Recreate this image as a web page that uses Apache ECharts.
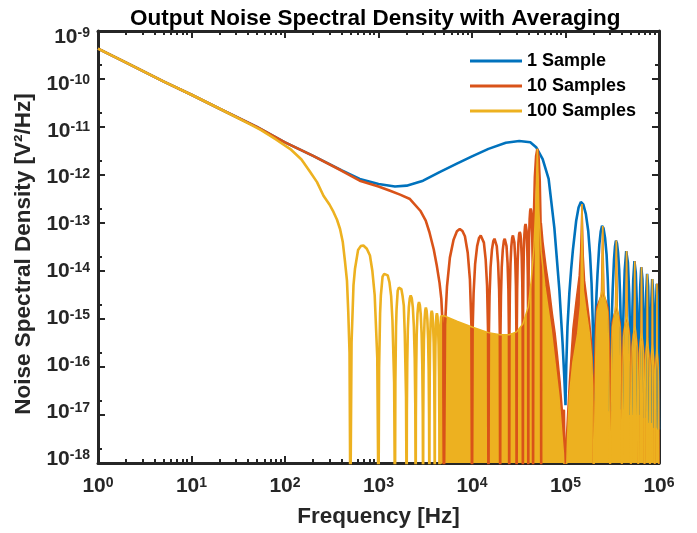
<!DOCTYPE html>
<html><head><meta charset="utf-8">
<script src="https://cdn.jsdelivr.net/npm/echarts@6/dist/echarts.min.js"></script>
<style>html,body{margin:0;padding:0;background:#fff}#c{width:697px;height:533px}</style>
</head><body><div id="c"></div>
<script>
// ---- data: [frequency Hz, PSD V^2/Hz] ----
const oneSample = [
 [1,4.3e-10],[2,2.2e-10],[5,8.9e-11],[10,4.7e-11],[20,2.4e-11],[50,1.0e-11],[100,4.8e-12],[200,2.5e-12],[400,1.26e-12],
 [630,8.3e-13],[1000,6.5e-13],[1500,5.75e-13],[2000,6.0e-13],[3000,7.6e-13],[4500,1.15e-12],[6800,1.7e-12],[1e4,2.45e-12],
 [1.5e4,3.5e-12],[2.3e4,4.7e-12],[3.2e4,5.1e-12],[4.2e4,4.8e-12],[4.85e4,3.8e-12],[5.7e4,2.15e-12],[6.6e4,8.3e-13],
 [7.6e4,7.9e-14],[8.6e4,4.0e-15],[9.3e4,3.2e-16],[9.7e4,6.3e-17],[1e5,1.6e-17],
 [1.02e5,1.1e-16],[1.05e5,6.9e-16],[1.1e5,3.5e-15],[1.15e5,1.1e-14],[1.2e5,2.75e-14],[1.3e5,1.1e-13],[1.38e5,2.1e-13],[1.46e5,2.75e-13],
 [1.55e5,2.45e-13],[1.65e5,1.55e-13],[1.75e5,6.9e-14],[1.83e5,2.2e-14],[1.9e5,5.5e-15],[1.95e5,1.1e-15],[1.98e5,2.75e-16],[2e5,2e-17],
 [2.02e5,3.5e-17],[2.05e5,2.2e-16],[2.1e5,1.1e-15],[2.15e5,3.5e-15],[2.2e5,8.7e-15],[2.3e5,3.5e-14],[2.38e5,6.6e-14],[2.46e5,8.7e-14],
 [2.55e5,7.8e-14],[2.65e5,4.9e-14],[2.75e5,2.2e-14],[2.83e5,6.9e-15],[2.9e5,1.74e-15],[2.95e5,3.5e-16],[2.98e5,8.7e-17],[3e5,1.2e-17],
 [3.02e5,1.7e-17],[3.05e5,1.07e-16],[3.1e5,5.4e-16],[3.15e5,1.7e-15],[3.2e5,4.3e-15],[3.3e5,1.7e-14],[3.38e5,3.2e-14],[3.46e5,4.3e-14],
 [3.55e5,3.8e-14],[3.65e5,2.4e-14],[3.75e5,1.07e-14],[3.83e5,3.4e-15],[3.9e5,8.5e-16],[3.95e5,1.7e-16],[3.98e5,4.3e-17],[4e5,1.3e-17],
 [4.03e5,2.6e-17],[4.1e5,3.3e-16],[4.2e5,2.6e-15],[4.3e5,1.05e-14],[4.46e5,2.6e-14],[4.65e5,1.5e-14],[4.8e5,3.3e-15],[4.9e5,5.2e-16],[4.97e5,4.2e-17],[5e5,1e-17],
 [5.03e5,1.6e-17],[5.1e5,2.0e-16],[5.2e5,1.6e-15],[5.3e5,6.5e-15],[5.46e5,1.6e-14],[5.65e5,9.1e-15],[5.8e5,2.0e-15],[5.9e5,3.2e-16],[5.97e5,2.6e-17],[6e5,1e-17],
 [6.03e5,1.2e-17],[6.1e5,1.5e-16],[6.2e5,1.2e-15],[6.3e5,4.8e-15],[6.46e5,1.2e-14],[6.65e5,6.8e-15],[6.8e5,1.5e-15],[6.9e5,2.4e-16],[6.97e5,1.9e-17],[7e5,1e-17],
 [7.03e5,8.7e-18],[7.1e5,1.1e-16],[7.2e5,8.7e-16],[7.3e5,3.5e-15],[7.46e5,8.7e-15],[7.65e5,4.9e-15],[7.8e5,1.1e-15],[7.9e5,1.74e-16],[7.97e5,1.4e-17],[8e5,8e-18],
 [8.03e5,6.8e-18],[8.1e5,8.5e-17],[8.2e5,6.8e-16],[8.3e5,2.7e-15],[8.46e5,6.8e-15],[8.65e5,3.8e-15],[8.8e5,8.5e-16],[8.9e5,1.35e-16],[8.97e5,1.07e-17],[9e5,6e-18],
 [9.03e5,5.4e-18],[9.1e5,6.8e-17],[9.2e5,5.4e-16],[9.3e5,2.1e-15],[9.46e5,5.4e-15],[9.65e5,3.0e-15],[9.8e5,6.8e-16],[9.9e5,1.07e-16],[9.97e5,8.5e-18],[1e6,5e-18]
];
const tenSamples = [
 [1,4.3e-10],[2,2.2e-10],[5,8.9e-11],[10,4.7e-11],[20,2.4e-11],[50,1.0e-11],[100,4.8e-12],[200,2.5e-12],[400,1.24e-12],
 [630,7.6e-13],[1000,5.75e-13],[1330,4.7e-13],[1700,3.9e-13],[2170,3.16e-13],[2800,1.8e-13],[3200,1.12e-13],[3500,6.5e-14],
 [3900,2.8e-14],[4200,1.3e-14],[4500,5.6e-15],[4700,2.6e-15],[4900,5e-16],[5000,1e-19],
 [5150,7.5e-16],[5400,4.7e-15],[5800,1.9e-14],[6350,4.5e-14],[6900,6.7e-14],[7400,7.5e-14],[7900,6.8e-14],[8400,5.3e-14],[9000,2.4e-14],[9500,6.7e-15],[9850,7.5e-16],[1e4,1e-19],
 [1.015e4,5.5e-16],[1.04e4,3.5e-15],[1.08e4,1.4e-14],[1.135e4,3.3e-14],[1.19e4,4.9e-14],[1.24e4,5.5e-14],[1.29e4,5.0e-14],[1.34e4,3.9e-14],[1.4e4,1.74e-14],[1.45e4,4.9e-15],[1.485e4,5.5e-16],[1.5e4,1e-19],
 [1.515e4,4.7e-16],[1.54e4,3.0e-15],[1.58e4,1.2e-14],[1.635e4,2.8e-14],[1.69e4,4.2e-14],[1.74e4,4.7e-14],[1.79e4,4.3e-14],[1.84e4,3.3e-14],[1.9e4,1.5e-14],[1.95e4,4.2e-15],[1.985e4,4.7e-16],[2e4,1e-19],
 [2.015e4,4.7e-16],[2.04e4,3.0e-15],[2.08e4,1.2e-14],[2.135e4,2.8e-14],[2.19e4,4.2e-14],[2.24e4,4.7e-14],[2.29e4,4.3e-14],[2.34e4,3.3e-14],[2.4e4,1.5e-14],[2.45e4,4.2e-15],[2.485e4,4.7e-16],[2.5e4,1e-19],
 [2.515e4,5.5e-16],[2.54e4,3.5e-15],[2.58e4,1.4e-14],[2.635e4,3.3e-14],[2.69e4,4.9e-14],[2.74e4,5.5e-14],[2.79e4,5.0e-14],[2.84e4,3.9e-14],[2.9e4,1.74e-14],[2.95e4,4.9e-15],[2.985e4,5.5e-16],[3e4,1e-19],
 [3.015e4,6.5e-16],[3.04e4,4.1e-15],[3.08e4,1.6e-14],[3.135e4,3.9e-14],[3.19e4,5.8e-14],[3.24e4,6.5e-14],[3.29e4,5.9e-14],[3.34e4,4.6e-14],[3.4e4,2.0e-14],[3.45e4,5.8e-15],[3.485e4,6.5e-16],[3.5e4,1e-19],
 [3.515e4,9.5e-16],[3.54e4,6.0e-15],[3.58e4,2.4e-14],[3.635e4,5.8e-14],[3.69e4,8.5e-14],[3.74e4,9.5e-14],[3.79e4,8.7e-14],[3.84e4,6.8e-14],[3.9e4,3.0e-14],[3.95e4,8.5e-15],[3.985e4,9.5e-16],[4e4,1e-19],
 [4.015e4,2.0e-15],[4.04e4,1.26e-14],[4.08e4,5.0e-14],[4.135e4,1.2e-13],[4.19e4,1.78e-13],[4.24e4,2.0e-13],[4.29e4,1.8e-13],[4.34e4,1.4e-13],[4.4e4,6.3e-14],[4.45e4,1.78e-14],[4.485e4,2.0e-15],[4.5e4,1e-19],
 [4.525e4,1.0e-14],[4.575e4,1.0e-13],[4.7e4,8.9e-13],[4.85e4,2.5e-12],[5e4,3.5e-12],[5.15e4,2.4e-12],[5.3e4,7.9e-13],[5.425e4,7.9e-14],[5.475e4,7.9e-15],[5.5e4,1e-19]
];
// dense part of the 10-sample curve: upper envelope of the filled band
const tenSamplesBand = [
 [5.5e4,1e-19],[5.52e4,1.0e-13],[5.75e4,4.0e-14],[6.25e4,1.1e-14],[6.75e4,4.0e-15],[7.25e4,1.26e-15],[7.75e4,5.0e-16],
 [8.25e4,1.6e-16],[8.75e4,5.0e-17],[9.25e4,1.26e-17],[9.75e4,1.26e-17],[1e5,1e-19],
 [1.02e5,3.2e-18],[1.1e5,5.0e-17],[1.2e5,6.3e-16],[1.3e5,2.5e-15],[1.4e5,7.9e-15],[1.45e5,2.5e-14],[1.48e5,1.0e-13],[1.5e5,2.5e-13],
 [1.52e5,1.0e-13],[1.55e5,2.0e-14],[1.6e5,6.3e-15],[1.7e5,2.5e-15],[1.8e5,1.0e-15],[1.9e5,3.2e-16],[1.96e5,6.3e-17],[2e5,1e-19],
 [2.006e5,8.7e-18],[2.02e5,2.2e-17],[2.05e5,1.4e-16],[2.1e5,6.9e-16],[2.16e5,1.74e-15],[2.3e5,2.45e-15],[2.42e5,3.1e-15],[2.5e5,8.7e-14],
 [2.58e5,3.1e-15],[2.7e5,2.45e-15],[2.84e5,1.74e-15],[2.9e5,8.7e-16],[2.95e5,2.2e-16],[2.98e5,4.4e-17],[2.994e5,8.7e-18],[3e5,1e-19],
 [3.006e5,4.3e-18],[3.02e5,1.07e-17],[3.05e5,6.8e-17],[3.1e5,3.4e-16],[3.16e5,8.5e-16],[3.3e5,1.2e-15],[3.42e5,1.5e-15],[3.5e5,4.3e-14],
 [3.58e5,1.5e-15],[3.7e5,1.2e-15],[3.84e5,8.5e-16],[3.9e5,4.3e-16],[3.95e5,1.07e-16],[3.98e5,2.1e-17],[3.994e5,4.3e-18],[4e5,1e-19],
 [4.006e5,2.6e-18],[4.02e5,6.6e-18],[4.05e5,4.2e-17],[4.1e5,2.1e-16],[4.16e5,5.2e-16],[4.3e5,7.4e-16],[4.42e5,9.3e-16],[4.5e5,2.6e-14],
 [4.58e5,9.3e-16],[4.7e5,7.4e-16],[4.84e5,5.2e-16],[4.9e5,2.6e-16],[4.95e5,6.6e-17],[4.98e5,1.3e-17],[4.994e5,2.6e-18],[5e5,1e-19],
 [5.006e5,1.6e-18],[5.02e5,4.1e-18],[5.05e5,2.6e-17],[5.1e5,1.3e-16],[5.16e5,3.2e-16],[5.3e5,4.6e-16],[5.42e5,5.8e-16],[5.5e5,1.6e-14],
 [5.58e5,5.8e-16],[5.7e5,4.6e-16],[5.84e5,3.2e-16],[5.9e5,1.6e-16],[5.95e5,4.1e-17],[5.98e5,8.1e-18],[5.994e5,1.6e-18],[6e5,1e-19],
 [6.006e5,1.2e-18],[6.02e5,3.0e-18],[6.05e5,1.9e-17],[6.1e5,9.5e-17],[6.16e5,2.4e-16],[6.3e5,3.4e-16],[6.42e5,4.3e-16],[6.5e5,1.2e-14],
 [6.58e5,4.3e-16],[6.7e5,3.4e-16],[6.84e5,2.4e-16],[6.9e5,1.2e-16],[6.95e5,3.0e-17],[6.98e5,6.0e-18],[6.994e5,1.2e-18],[7e5,1e-19],
 [7.006e5,8.7e-19],[7.02e5,2.2e-18],[7.05e5,1.4e-17],[7.1e5,6.9e-17],[7.16e5,1.74e-16],[7.3e5,2.45e-16],[7.42e5,3.1e-16],[7.5e5,8.7e-15],
 [7.58e5,3.1e-16],[7.7e5,2.45e-16],[7.84e5,1.74e-16],[7.9e5,8.7e-17],[7.95e5,2.2e-17],[7.98e5,4.4e-18],[7.994e5,8.7e-19],[8e5,1e-19],
 [8.006e5,6.8e-19],[8.02e5,1.7e-18],[8.05e5,1.07e-17],[8.1e5,5.4e-17],[8.16e5,1.35e-16],[8.3e5,1.9e-16],[8.42e5,2.4e-16],[8.5e5,6.8e-15],
 [8.58e5,2.4e-16],[8.7e5,1.9e-16],[8.84e5,1.35e-16],[8.9e5,6.8e-17],[8.95e5,1.7e-17],[8.98e5,3.4e-18],[8.994e5,6.8e-19],[9e5,1e-19],
 [9.006e5,5.4e-19],[9.02e5,1.35e-18],[9.05e5,8.5e-18],[9.1e5,4.3e-17],[9.16e5,1.07e-16],[9.3e5,1.5e-16],[9.42e5,1.9e-16],[9.5e5,5.4e-15],
 [9.58e5,1.9e-16],[9.7e5,1.5e-16],[9.84e5,1.07e-16],[9.9e5,5.4e-17],[9.95e5,1.35e-17],[9.98e5,2.7e-18],[9.994e5,5.4e-19],[1e6,1e-19]
];
const hundredSamples = [
 [1,4.3e-10],[2,2.2e-10],[5,8.9e-11],[10,4.7e-11],[20,2.4e-11],[40,1.2e-11],[55,8.7e-12],[80,5.5e-12],[114,3.47e-12],
 [150,2.1e-12],[186,1.15e-12],[220,7.1e-13],[258,3.7e-13],[300,2.4e-13],[330,1.7e-13],[360,1.17e-13],[388,7.5e-14],
 [415,4.0e-14],[438,1.58e-14],[460,6.3e-15],[475,1.38e-15],[490,2.0e-16],[500,1e-19],
 [515,3.2e-16],[540,5.0e-15],[560,1.1e-14],[605,2.75e-14],[645,3.3e-14],[689,3.4e-14],[750,2.9e-14],[810,2.1e-14],[860,1.0e-14],[910,3.2e-15],[970,1.6e-16],[1000,1e-19],
 [1015,9.3e-17],[1040,1.3e-15],[1060,3.1e-15],[1105,7.6e-15],[1150,8.7e-15],[1200,9.3e-15],[1255,8.1e-15],[1310,5.8e-15],[1365,3.0e-15],[1410,9.3e-16],[1470,4.7e-17],[1500,1e-19],
 [1515,4.8e-17],[1540,6.8e-16],[1560,1.6e-15],[1605,3.9e-15],[1650,4.5e-15],[1700,4.8e-15],[1755,4.2e-15],[1810,3.0e-15],[1865,1.9e-15],[1910,4.8e-16],[1970,2.4e-17],[2000,1e-19],
 [2010,1.2e-17],[2030,1.2e-16],[2060,6.2e-16],[2110,1.74e-15],[2160,2.7e-15],[2210,3.1e-15],[2270,2.7e-15],[2330,1.74e-15],[2390,6.9e-16],[2440,1.55e-16],[2475,1.55e-17],[2500,1e-19],
 [2510,8.9e-18],[2530,8.9e-17],[2560,4.5e-16],[2610,1.26e-15],[2660,1.95e-15],[2710,2.24e-15],[2770,1.95e-15],[2830,1.26e-15],[2890,5.0e-16],[2940,1.12e-16],[2975,1.12e-17],[3000,1e-19],
 [3010,6.9e-18],[3030,6.9e-17],[3060,3.5e-16],[3110,9.8e-16],[3160,1.5e-15],[3210,1.74e-15],[3270,1.5e-15],[3330,9.8e-16],[3390,3.9e-16],[3440,8.7e-17],[3475,8.7e-18],[3500,1e-19],
 [3510,5.9e-18],[3530,5.9e-17],[3560,3.0e-16],[3610,8.3e-16],[3660,1.3e-15],[3710,1.48e-15],[3770,1.3e-15],[3830,8.3e-16],[3890,3.3e-16],[3940,7.4e-17],[3975,7.4e-18],[4000,1e-19],
 [4010,5.2e-18],[4030,5.2e-17],[4060,2.6e-16],[4110,7.4e-16],[4160,1.15e-15],[4210,1.32e-15],[4270,1.15e-15],[4330,7.4e-16],[4390,3.0e-16],[4440,6.6e-17],[4475,6.6e-18],[4500,1e-19],
 [4510,5e-18],[4530,5e-17],[4560,2.5e-16],[4610,7.1e-16],[4660,1.07e-15],[4700,1.17e-15]
];
// dense part of the 100-sample curve: upper envelope of the filled band
const hundredSamplesBand = [
 [4700,1e-19],[4705,1.17e-15],[5e3,1.17e-15],[7e3,8.9e-16],[1e4,6.8e-16],[1.5e4,5.2e-16],[2e4,4.7e-16],[2.5e4,4.7e-16],
 [3e4,5.4e-16],[3.5e4,7.9e-16],[4e4,1.8e-15],[4.3e4,6.3e-15],[4.6e4,3.2e-14],[4.8e4,2.0e-13],[4.95e4,1.6e-12],[5e4,3.5e-12],
 [5.05e4,1.6e-12],[5.2e4,1.6e-13],[5.5e4,2.5e-14],[6e4,5.0e-15],[7e4,6.3e-16],[8.5e4,2.5e-17],[9.5e4,1.6e-18],[1e5,1e-19],
 [1.05e5,3e-18],[1.1e5,2.5e-17],[1.2e5,1.26e-16],[1.35e5,5e-16],[1.45e5,2e-15],[1.49e5,3.2e-14],[1.5e5,2.5e-13],[1.51e5,5e-14],[1.55e5,4e-15],
 [1.65e5,1.6e-15],[1.8e5,5e-16],[1.9e5,1.6e-16],[1.95e5,4e-17],[2e5,1e-19],
 [2.06e5,8.7e-18],[2.12e5,3.5e-16],[2.18e5,1.4e-15],[2.3e5,2.2e-15],[2.45e5,3.9e-15],[2.5e5,8.7e-14],[2.55e5,3.9e-15],[2.7e5,2.2e-15],[2.82e5,1.4e-15],[2.88e5,3.5e-16],[2.94e5,8.7e-18],[3e5,1e-19],
 [3.06e5,4.3e-18],[3.12e5,1.7e-16],[3.18e5,6.8e-16],[3.3e5,1.07e-15],[3.45e5,1.9e-15],[3.5e5,4.3e-14],[3.55e5,1.9e-15],[3.7e5,1.07e-15],[3.82e5,6.8e-16],[3.88e5,1.7e-16],[3.94e5,4.3e-18],[4e5,1e-19],
 [4.06e5,2.6e-18],[4.12e5,1.05e-16],[4.18e5,4.2e-16],[4.3e5,6.6e-16],[4.45e5,1.17e-15],[4.5e5,2.6e-14],[4.55e5,1.17e-15],[4.7e5,6.6e-16],[4.82e5,4.2e-16],[4.88e5,1.05e-16],[4.94e5,2.6e-18],[5e5,1e-19],
 [5.06e5,1.6e-18],[5.12e5,6.5e-17],[5.18e5,2.6e-16],[5.3e5,4.1e-16],[5.45e5,7.2e-16],[5.5e5,1.6e-14],[5.55e5,7.2e-16],[5.7e5,4.1e-16],[5.82e5,2.6e-16],[5.88e5,6.5e-17],[5.94e5,1.6e-18],[6e5,1e-19],
 [6.06e5,1.2e-18],[6.12e5,4.8e-17],[6.18e5,1.9e-16],[6.3e5,3.0e-16],[6.45e5,5.4e-16],[6.5e5,1.2e-14],[6.55e5,5.4e-16],[6.7e5,3.0e-16],[6.82e5,1.9e-16],[6.88e5,4.8e-17],[6.94e5,1.2e-18],[7e5,1e-19],
 [7.06e5,8.7e-19],[7.12e5,3.5e-17],[7.18e5,1.4e-16],[7.3e5,2.2e-16],[7.45e5,3.9e-16],[7.5e5,8.7e-15],[7.55e5,3.9e-16],[7.7e5,2.2e-16],[7.82e5,1.4e-16],[7.88e5,3.5e-17],[7.94e5,8.7e-19],[8e5,1e-19],
 [8.06e5,6.8e-19],[8.12e5,2.7e-17],[8.18e5,1.07e-16],[8.3e5,1.7e-16],[8.45e5,3.0e-16],[8.5e5,6.8e-15],[8.55e5,3.0e-16],[8.7e5,1.7e-16],[8.82e5,1.07e-16],[8.88e5,2.7e-17],[8.94e5,6.8e-19],[9e5,1e-19],
 [9.06e5,5.4e-19],[9.12e5,2.1e-17],[9.18e5,8.5e-17],[9.3e5,1.35e-16],[9.45e5,2.4e-16],[9.5e5,5.4e-15],[9.55e5,2.4e-16],[9.7e5,1.35e-16],[9.82e5,8.5e-17],[9.88e5,2.1e-17],[9.94e5,5.4e-19],[1e6,1e-19]
];
const seriesNames = ['1 Sample','10 Samples','100 Samples'];
const xMajorTicks = [1,10,100,1e3,1e4,1e5,1e6];
const xMinorTicks = [2,3,4,5,6,7,8,9,20,30,40,50,60,70,80,90,200,300,400,500,600,700,800,900,
 2e3,3e3,4e3,5e3,6e3,7e3,8e3,9e3,2e4,3e4,4e4,5e4,6e4,7e4,8e4,9e4,2e5,3e5,4e5,5e5,6e5,7e5,8e5,9e5];
const yMajorTicks = [1e-18,1e-17,1e-16,1e-15,1e-14,1e-13,1e-12,1e-11,1e-10,1e-9];
const yMinorTicks = [2e-18,2e-17,2e-16,2e-15,2e-14,2e-13,2e-12,2e-11,2e-10];
// where each decade label sits in the reference (labels are slightly compressed vs. ticks)
const yLabelAnchors = [7.50e-10,7.91e-11,8.34e-12,8.80e-13,9.28e-14,9.79e-15,1.032e-15,1.088e-16,1.148e-17,1.21e-18];

const COLORS = ['#0072BD','#D95319','#EDB120'];
const FONT = '"Liberation Sans", Arial, Helvetica, sans-serif';
const AX = '#262626';

const rich = {
  b:{fontSize:21,fontWeight:'bold',color:AX,fontFamily:FONT,lineHeight:21,verticalAlign:'bottom',padding:[8,0,0,0]},
  s:{fontSize:14,fontWeight:'bold',color:AX,fontFamily:FONT,lineHeight:14,verticalAlign:'top'}
};
function fmt(v){ return '{b|10}{s|' + Math.round(Math.log10(v)) + '}'; }

function logAxis(dim, pos, ticks, len, line, labelValues){
  const a = {
    type:'log', logBase:10, position:pos,
    min: dim==='x'?1:1e-18, max: dim==='x'?1e6:1e-9,
    splitLine:{show:false}, minorTick:{show:false}, minorSplitLine:{show:false},
    axisLine:{show:line, onZero:false, lineStyle:{color:AX,width:3}},
    axisTick:{show:true, inside:true, length:len, customValues:ticks, lineStyle:{color:AX,width:2}},
    axisLabel:{show:false}
  };
  if (labelValues) {
    a.axisLabel = {show:true, customValues:labelValues, formatter:fmt, rich:rich, margin: dim==='x'?13:8};
  }
  return a;
}
const xAxes = [
  logAxis('x','bottom',xMajorTicks,7,true,xMajorTicks),
  logAxis('x','bottom',xMinorTicks,4,false,null),
  logAxis('x','top',xMajorTicks,7,true,null),
  logAxis('x','top',xMinorTicks,4,false,null)
];
xAxes[0].name = 'Frequency [Hz]';
xAxes[0].nameLocation = 'middle';
xAxes[0].nameGap = 42;
xAxes[0].nameTextStyle = {fontSize:22.5,fontWeight:'bold',color:AX,fontFamily:FONT};
const yAxes = [
  logAxis('y','left',yMajorTicks,7,true,yLabelAnchors),
  logAxis('y','left',yMinorTicks,4,false,null),
  logAxis('y','right',yMajorTicks,7,true,null),
  logAxis('y','right',yMinorTicks,4,false,null)
];
yAxes[0].name = 'Noise Spectral Density [V\u00B2/Hz]';
yAxes[0].nameLocation = 'middle';
yAxes[0].nameGap = 60;
yAxes[0].nameRotate = 90;
yAxes[0].nameTextStyle = {fontSize:22.5,fontWeight:'bold',color:AX,fontFamily:FONT,padding:[0,14,0,0]};

function lineSeries(name, data, color){
  return {name, type:'line', data, xAxisIndex:0, yAxisIndex:0, showSymbol:false, symbol:'none',
    smooth:false, clip:true, animation:false, lineStyle:{color, width:2.6}, itemStyle:{color}};
}
function bandSeries(name, data, color){
  return {name, type:'line', data, xAxisIndex:0, yAxisIndex:0, showSymbol:false, symbol:'none',
    clip:true, animation:false, lineStyle:{color, width:1.5}, itemStyle:{color},
    areaStyle:{color, opacity:1, origin:'start'}};
}

const chart = echarts.init(document.getElementById('c'), null, {renderer:'canvas'});
chart.setOption({
  animation:false,
  backgroundColor:'#ffffff',
  textStyle:{fontFamily:FONT},
  title:{text:'Output Noise Spectral Density with Averaging', left:125, top:2,
    textStyle:{fontSize:22.5,fontWeight:'bold',color:'#000',fontFamily:FONT}},
  grid:{left:98, right:38, top:31, bottom:69, containLabel:false},
  legend:{data:seriesNames, orient:'vertical', left:470, top:52, padding:0, itemWidth:52, itemHeight:16, itemGap:7,
    icon:'path://M0,0 L52,0 L52,3 L0,3 Z',
    textStyle:{fontSize:18,fontWeight:'bold',color:'#000',fontFamily:FONT}},
  xAxis: xAxes,
  yAxis: yAxes,
  series:[
    lineSeries(seriesNames[0], oneSample, COLORS[0]),
    lineSeries(seriesNames[1], tenSamples, COLORS[1]),
    bandSeries('10 Samples band', tenSamplesBand, COLORS[1]),
    lineSeries(seriesNames[2], hundredSamples, COLORS[2]),
    bandSeries('100 Samples band', hundredSamplesBand, COLORS[2])
  ]
});
</script></body></html>
